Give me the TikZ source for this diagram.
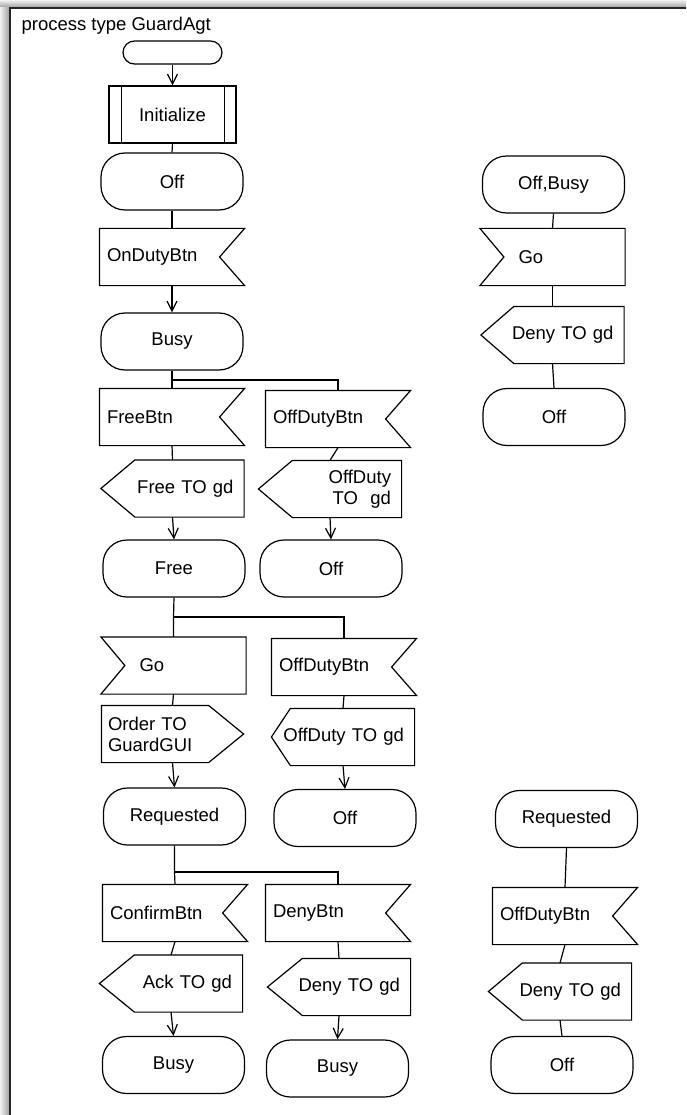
\documentclass[tikz,border=0pt]{standalone}
\usepackage{fontspec}
\setmainfont{Liberation Sans}
\usetikzlibrary{arrows.meta}
\begin{document}
\begin{tikzpicture}[x=1pt,y=-1pt,line width=1.2pt,
  every node/.style={font=\fontsize{18.5}{21}\selectfont},
  stbox/.style={draw,rectangle,rounded corners=24pt,minimum width=142pt,minimum height=57pt,inner sep=0pt},
  startbox/.style={draw,rectangle,rounded corners=11.5pt,minimum width=99pt,minimum height=23pt,inner sep=0pt},
  procbox/.style={draw,rectangle,minimum width=127pt,minimum height=57pt,inner sep=0pt},
  inbox/.style={rectangle,inner xsep=7pt,inner ysep=0pt,minimum height=56pt,text width=130pt,align=left},
  golbox/.style={inbox,execute at begin node=\hspace*{31pt}},
  outlbox/.style={rectangle,inner xsep=10pt,inner ysep=0pt,minimum height=56pt,text width=122pt,align=right},
  outrbox/.style={rectangle,inner xsep=6pt,inner ysep=0pt,minimum height=56pt,text width=129pt,align=left},
  arr/.style={-{Straight Barb[length=10pt,width=10pt]}},
]
\useasboundingbox (0,0) rectangle (686,1115);
% page background and frame with its soft shadow
\fill[white] (0,0) rectangle (686,1115);
\shade[top color=black!5,bottom color=black!40] (0,0) rectangle (686,8);
\shade[left color=black!5,right color=black!40] (0,8) rectangle (10,1115);
\draw[line width=1.5pt,black!85] (10,1115) -- (10,8) -- (686,8);
\node[anchor=base west,inner sep=0pt] (title) at (21,31) {process type GuardAgt};

% main column
\node[startbox] (start) at (172.5,52.5) {};
\node[procbox] (init) at (172.5,114.5) {Initialize};
\node[stbox] (off1) at (172,181.5) {Off};
\node[inbox] (ondutybtn) at (172,257) {OnDutyBtn};
\node[stbox] (busy1) at (172,341.5) {Busy};
\node[inbox] (freebtn) at (172,417) {FreeBtn};
\node[outlbox] (freeout) at (172.5,488.5) {Free TO gd};
\node[stbox] (free) at (174,568.5) {Free};
\node[golbox] (goA) at (173.5,665.5) {Go};
\node[outrbox] (orderout) at (172.5,734) {Order TO\\GuardGUI};
\node[stbox] (reqA) at (174.5,816.5) {Requested};
\node[inbox] (confirmbtn) at (175,913) {ConfirmBtn};
\node[outlbox] (ackout) at (171,983.5) {Ack TO gd};
\node[stbox] (busy2) at (173.5,1065) {Busy};

% second column
\node[inbox] (offdutybtnA) at (338,419) {OffDutyBtn};
\node[outlbox] (offdutyoutA) at (330,489) {OffDuty\\TO~~gd};
\node[stbox] (off2) at (331,568.5) {Off};
\node[inbox] (offdutybtnB) at (344,667) {OffDutyBtn};
\node[outlbox] (offdutyoutB) at (343,737) {OffDuty TO gd};
\node[stbox] (off3) at (345,818) {Off};
\node[inbox] (denybtn) at (338,913) {DenyBtn};
\node[outlbox] (denyoutA) at (339,987) {Deny TO gd};
\node[stbox] (busy3) at (337.5,1068.5) {Busy};

% right column
\node[stbox] (offbusy) at (553.5,184.5) {Off,Busy};
\node[golbox] (goB) at (552.5,257) {Go};
\node[outlbox] (denyoutB) at (552.5,335) {Deny TO gd};
\node[stbox] (off4) at (554,417) {Off};
\node[stbox] (reqB) at (566.5,819) {Requested};
\node[inbox] (offdutybtnC) at (565,916) {OffDutyBtn};
\node[outlbox] (denyoutC) at (560,991.5) {Deny TO gd};
\node[stbox] (off5) at (562,1065) {Off};

% procedure box side bars
\draw ([xshift=13pt]init.north west) -- ([xshift=13pt]init.south west);
\draw ([xshift=-12pt]init.north east) -- ([xshift=-12pt]init.south east);

% input signals, notch on the right
\foreach \n in {ondutybtn,freebtn,offdutybtnA,offdutybtnB,confirmbtn,denybtn,offdutybtnC}
  \draw (\n.north west) -- (\n.north east) -- ([xshift=-25pt]\n.east)
        -- (\n.south east) -- (\n.south west) -- cycle;
% input signals, notch on the left
\foreach \n in {goA,goB}
  \draw (\n.north west) -- ([xshift=24pt]\n.west) -- (\n.south west)
        -- (\n.south east) -- (\n.north east) -- cycle;
% output signals pointing left
\foreach \n/\d in {freeout/34,offdutyoutA/34,offdutyoutB/19,ackout/35,denyoutA/35,denyoutB/33,denyoutC/34}
  \draw (\n.west) -- ([xshift=\d pt]\n.north west) -- (\n.north east)
        -- (\n.south east) -- ([xshift=\d pt]\n.south west) -- cycle;
% output signal pointing right
\draw (orderout.north west) -- ([xshift=-35pt]orderout.north east) -- (orderout.east)
      -- ([xshift=-35pt]orderout.south east) -- (orderout.south west) -- cycle;

% connectors
\draw[arr] (start.south) -- (init.north);
\draw (init.south) -- (off1.north);
\draw (off1.south) -- (ondutybtn.north);
\draw[arr] (ondutybtn.south) -- (busy1.north);
\coordinate (jA) at (172,380);
\draw (busy1.south) -- (jA) -- (freebtn.north);
\draw (jA) -- (jA -| offdutybtnA.north) -- (offdutybtnA.north);
\draw (freebtn.south) -- (freeout.north);
\draw[arr] (freeout.south) -- (free.north);
\draw (offdutybtnA.south) -- (offdutyoutA.north);
\draw[arr] (offdutyoutA.south) -- (off2.north);
\coordinate (jB) at (173.5,617);
\draw (free.south) -- (jB) -- (goA.north);
\draw (jB) -- (jB -| offdutybtnB.north) -- (offdutybtnB.north);
\draw (goA.south) -- (orderout.north);
\draw[arr] (orderout.south) -- (reqA.north);
\draw (offdutybtnB.south) -- (offdutyoutB.north);
\draw[arr] (offdutyoutB.south) -- (off3.north);
\coordinate (jC) at (174.5,872);
\draw (reqA.south) -- (jC) -- (confirmbtn.north);
\draw (jC) -- (jC -| denybtn.north) -- (denybtn.north);
\draw (confirmbtn.south) -- (ackout.north);
\draw[arr] (ackout.south) -- (busy2.north);
\draw (denybtn.south) -- (denyoutA.north);
\draw[arr] (denyoutA.south) -- (busy3.north);

\draw (offbusy.south) -- (goB.north);
\draw (goB.south) -- (denyoutB.north);
\draw (denyoutB.south) -- (off4.north);
\draw (reqB.south) -- (offdutybtnC.north);
\draw (offdutybtnC.south) -- (denyoutC.north);
\draw (denyoutC.south) -- (off5.north);
\end{tikzpicture}
\end{document}
